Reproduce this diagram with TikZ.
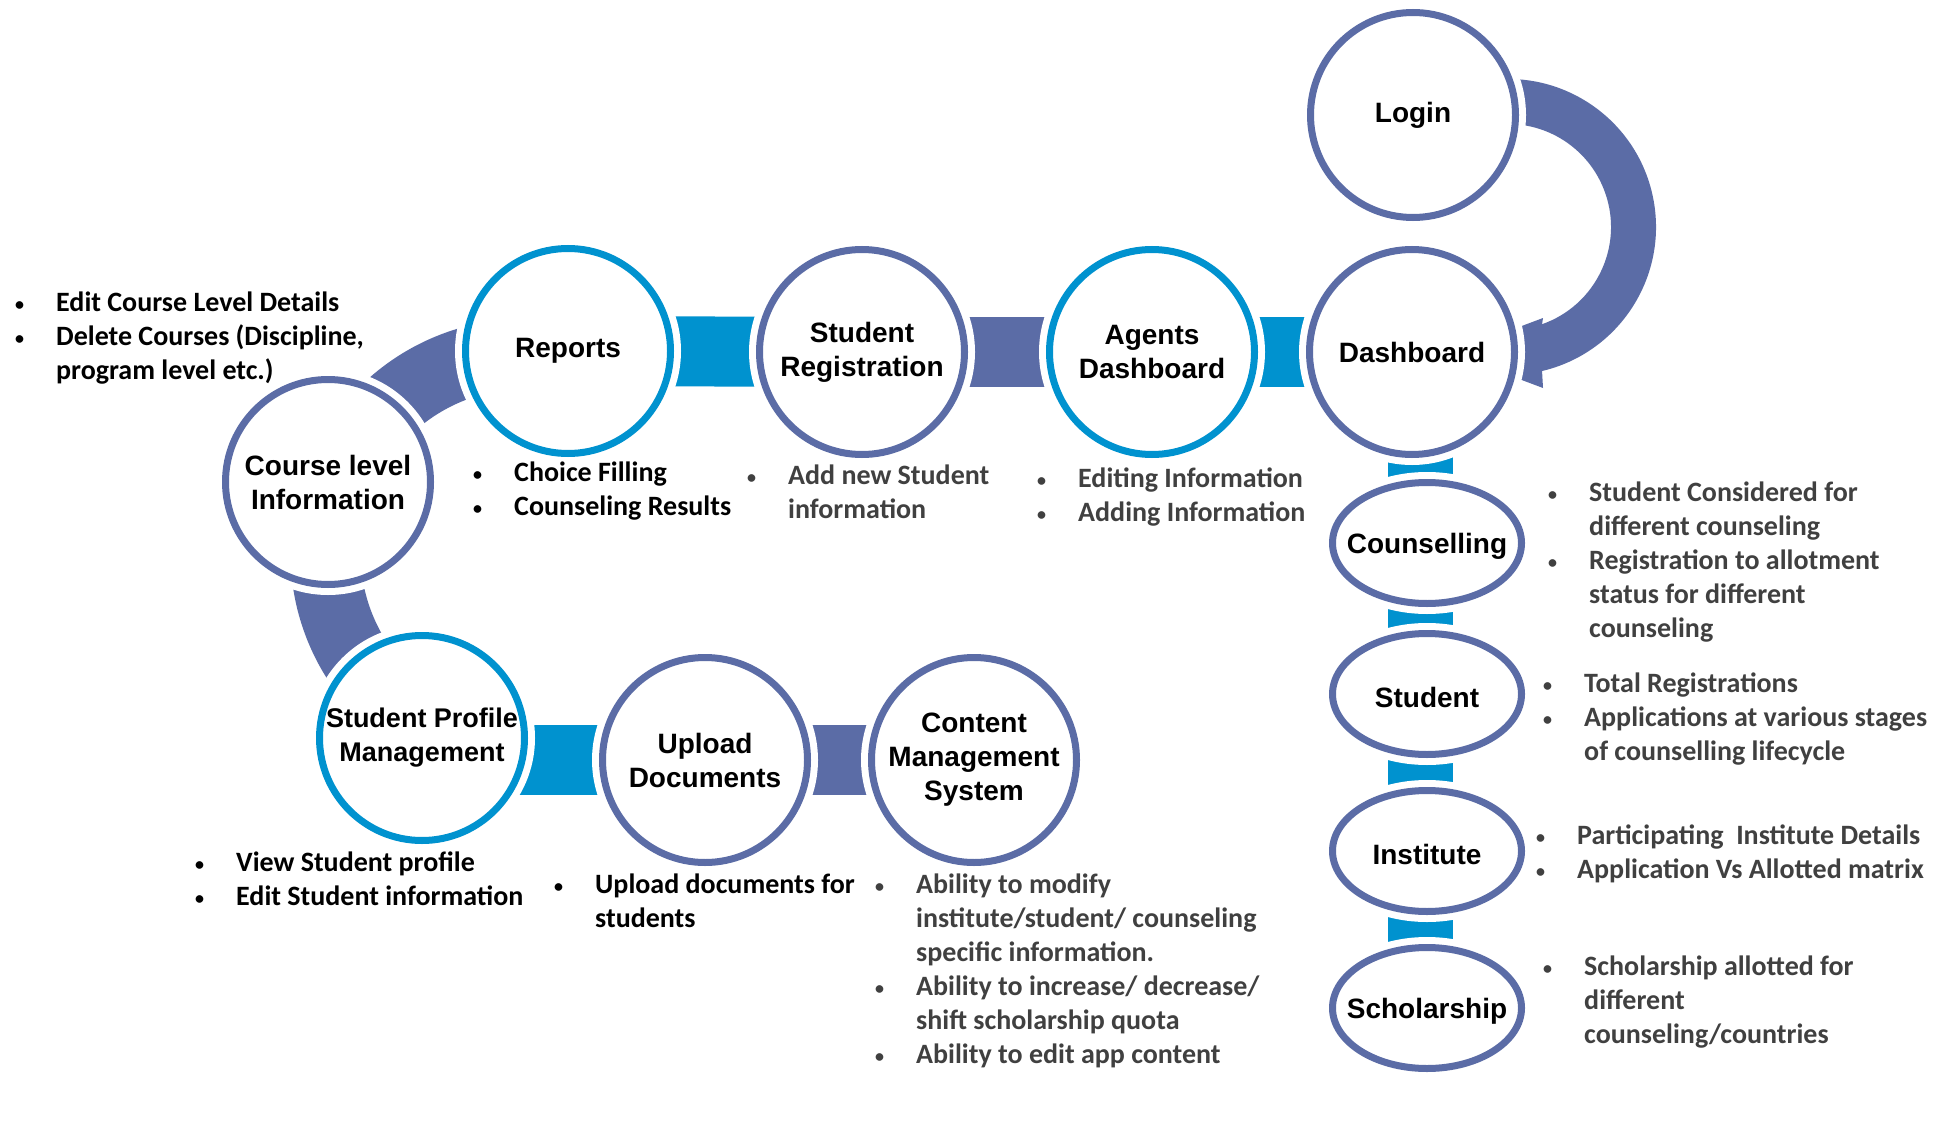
\documentclass[tikz,border=0pt]{standalone}
\usepackage{fontspec}
\setmainfont{Carlito}
\newfontfamily\arialfont{Liberation Sans}
\usetikzlibrary{shapes.geometric,backgrounds}

\definecolor{slate}{RGB}{91,108,166}
\definecolor{lblue}{RGB}{0,146,207}
\definecolor{notegray}{RGB}{64,64,64}

\newcommand{\stagefont}{\arialfont\bfseries\fontsize{28}{34}\selectfont}
\newcommand{\notefont}{\bfseries\fontsize{28}{34}\selectfont}
\newcommand{\bul}{\makebox[41pt][l]{\fontsize{18}{18}\selectfont\raisebox{1pt}{\textbullet}}}
\newcommand{\ind}{\hspace*{41pt}}

\tikzset{
  stage/.style={circle, draw=#1, line width=7, fill=white, minimum size=205, inner sep=0,
    align=center, font=\stagefont, preaction={draw=white, line width=21}},
  phase/.style={ellipse, draw=slate, line width=7, fill=white, minimum width=189,
    minimum height=121, inner sep=0, preaction={draw=white, line width=21},
    label={[font=\stagefont, yshift=-3]center:#1}},
  note/.style={anchor=north west, inner sep=0, align=left, font=\notefont, text=#1},
  link/.style={draw=#1, line width=70},
}

\begin{document}
\begin{tikzpicture}[x=1pt,y=1pt]
  \useasboundingbox (0,0) rectangle (1957,-1142);
  % top row
  \node[stage=slate] (login) at (1413,-115) {Login};
  \node[stage=slate] (dash) at (1412,-352) {Dashboard};
  \node[stage=lblue] (reports) at (568,-351) {Reports};
  \node[stage=slate] (stureg) at (862,-352) {Student\\Registration};
  \node[stage=lblue] (agents) at (1152,-352) {Agents\\Dashboard};
  % left and bottom
  \node[stage=slate] (course) at (328,-482) {Course level\\Information};
  \node[stage=lblue, font={\arialfont\bfseries\fontsize{27}{34}\selectfont}] (spm) at (422,-738) {Student Profile\\Management};
  \node[stage=slate] (upload) at (705,-760) {Upload\\Documents};
  \node[stage=slate] (cms) at (974,-760) {Content\\Management\\System};
  % right column
  \node[phase=Counselling] (counsel) at (1427,-543) {};
  \node[phase=Student] (student) at (1427,-694) {};
  \node[phase=Institute] (inst) at (1427,-851) {};
  \node[phase=Scholarship] (schol) at (1427,-1008) {};

  \begin{pgfonlayer}{background}
    \fill[white] (0,0) rectangle (1957,-1142);
    \draw[link=lblue] (reports.center) -- (stureg.center);
    \draw[link=slate] (stureg.center) -- (agents.center);
    \draw[link=lblue] (agents.center) -- (dash.center);
    \draw[link=lblue] (spm.center |- upload.center) -- (upload.center);
    \draw[link=slate] (upload.center) -- (cms.center);
    \draw[link=lblue, line width=65] ([xshift=-7]counsel.center |- dash.center) -- ([xshift=-7]schol.center);
    % ring through course level
    \coordinate (ring) at (524.5,-553);
    \fill[slate] ([shift={(78:234)}]ring) arc[start angle=78, end angle=241, radius=234]
      -- ([shift={(241:164)}]ring) arc[start angle=241, end angle=78, radius=164] -- cycle;
    % login loop
    \coordinate (loopc) at (1508,-227);
    \fill[slate] ([shift={(100:148)}]loopc) arc[start angle=100, end angle=-76.7, radius=148]
      -- (1543,-388) -- (1450,-353) -- (1543,-318)
      -- ([shift={(-70.7:103)}]loopc) arc[start angle=-70.7, end angle=100, radius=103] -- cycle;
  \end{pgfonlayer}

  % notes
  \node[note=black] (coursenote) at (15,-292) {\bul Edit Course Level Details\\\bul Delete Courses (Discipline,\\\ind program level etc.)};
  \node[note=black] (reportsnote) at (473,-462) {\bul Choice Filling\\\bul Counseling Results};
  \node[note=notegray] (sturegnote) at (747,-465) {\bul Add new Student\\\ind information};
  \node[note=notegray] (agentsnote) at (1037,-468) {\bul Editing Information\\\bul Adding Information};
  \node[note=notegray] (counselnote) at (1548,-482) {\bul Student Considered for\\\ind different counseling\\\bul Registration to allotment\\\ind status for different\\\ind counseling};
  \node[note=notegray] (studentnote) at (1543,-673) {\bul Total Registrations\\\bul Applications at various stages\\\ind of counselling lifecycle};
  \node[note=notegray] (instnote) at (1536,-825) {\bul Participating~ Institute Details\\\bul Application Vs Allotted matrix};
  \node[note=notegray] (scholnote) at (1543,-956) {\bul Scholarship allotted for\\\ind different\\\ind counseling/countries};
  \node[note=black] (spmnote) at (195,-852) {\bul View Student profile\\\bul Edit Student information};
  \node[note=black] (uploadnote) at (554,-874) {\bul Upload documents for\\\ind students};
  \node[note=notegray] (cmsnote) at (875,-874) {\bul Ability to modify\\\ind institute/student/ counseling\\\ind specific information.\\\bul Ability to increase/ decrease/\\\ind shift scholarship quota\\\bul Ability to edit app content};
\end{tikzpicture}
\end{document}
